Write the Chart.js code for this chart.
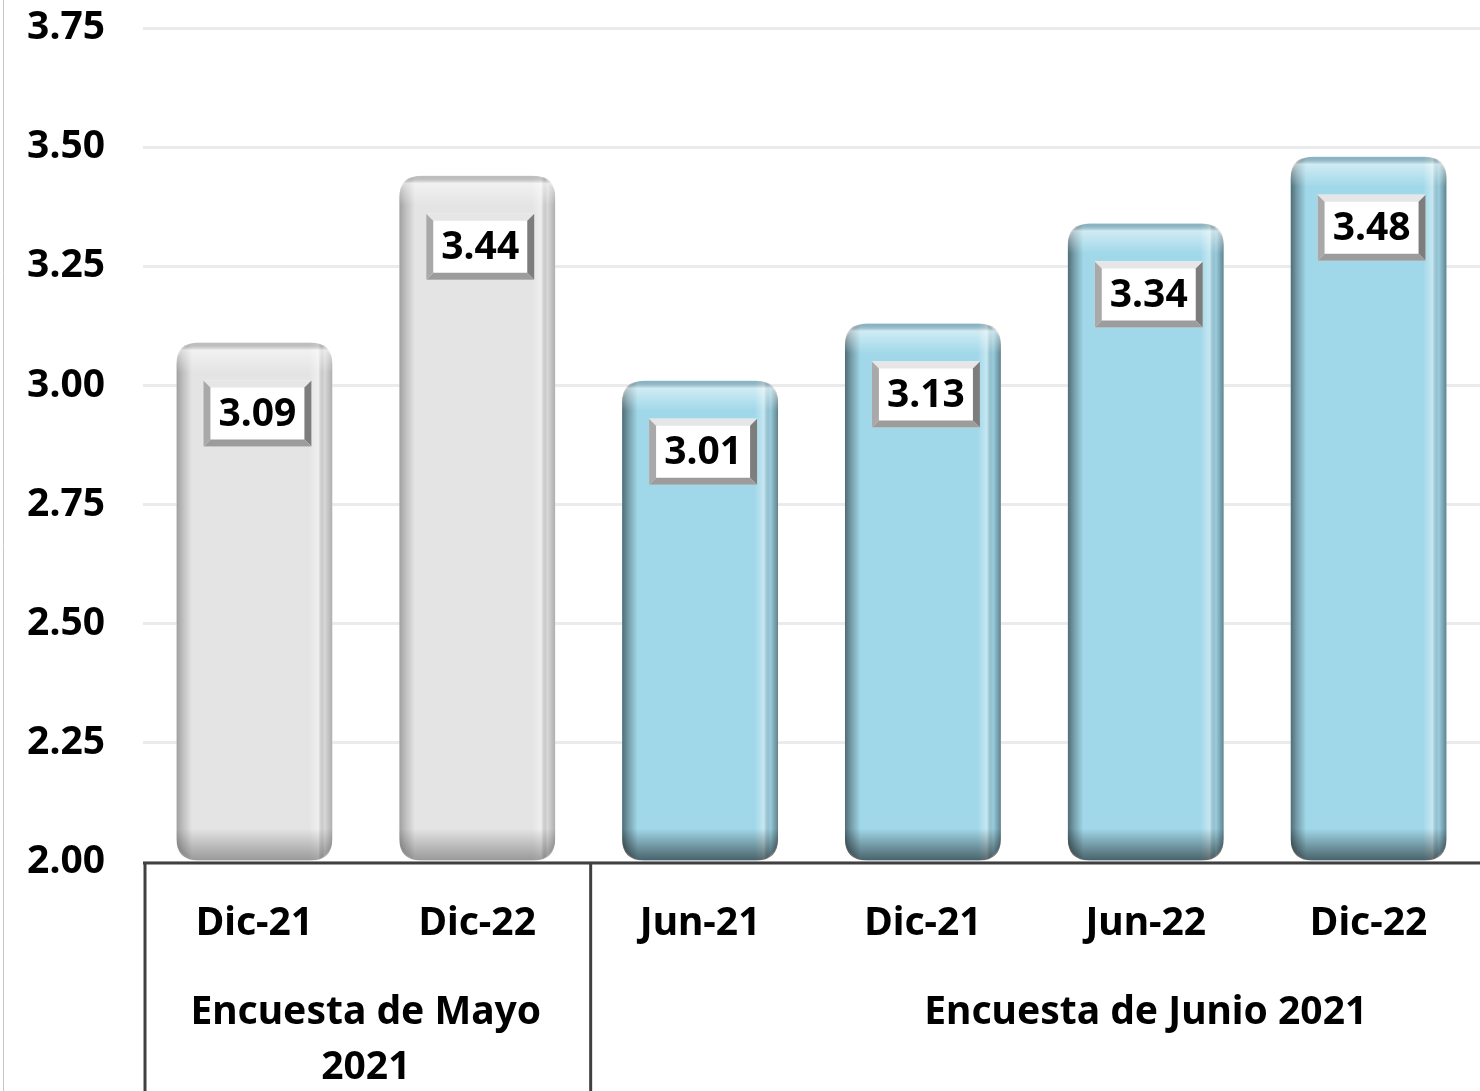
<!DOCTYPE html>
<html>
<head>
<meta charset="utf-8">
<script src="https://cdn.jsdelivr.net/npm/chart.js@4/dist/chart.umd.min.js"></script>
<style>
  html, body { margin: 0; padding: 0; background: #fff; }
  #wrap { width: 1480px; height: 1091px; position: relative; }
</style>
</head>
<body>
<div id="wrap"><canvas id="graph"></canvas></div>
<script>
const categorias = ['Dic-21', 'Dic-22', 'Jun-21', 'Dic-21', 'Jun-22', 'Dic-22'];
const valores = [3.09, 3.44, 3.01, 3.13, 3.34, 3.48];
const grupos = [
    { texto: ['Encuesta de Mayo', '2021'], desde: 0, hasta: 1 },
    { texto: ['Encuesta de Junio 2021'], desde: 2, hasta: 5 }
];
const ticksY = [2.00, 2.25, 2.50, 2.75, 3.00, 3.25, 3.50, 3.75];

const FONT = '"Noto Sans", "DejaVu Sans", sans-serif';
const colores = valores.map((v, i) => i < 2 ? '#e4e4e4' : '#a1d8e9');

function roundRect(ctx, x, y, w, h, r) {
    ctx.beginPath();
    ctx.moveTo(x + r, y);
    ctx.lineTo(x + w - r, y);
    ctx.quadraticCurveTo(x + w, y, x + w, y + r);
    ctx.lineTo(x + w, y + h - r);
    ctx.quadraticCurveTo(x + w, y + h, x + w - r, y + h);
    ctx.lineTo(x + r, y + h);
    ctx.quadraticCurveTo(x, y + h, x, y + h - r);
    ctx.lineTo(x, y + r);
    ctx.quadraticCurveTo(x, y, x + r, y);
    ctx.closePath();
}

// sombreado 3D de las barras
const bevelBars = {
    id: 'bevelBars',
    afterDatasetsDraw(chart) {
        const ctx = chart.ctx;
        chart.getDatasetMeta(0).data.forEach((bar, i) => {
            const x = bar.x - bar.width / 2, w = bar.width;
            const y = bar.y, h = bar.base - bar.y;
            const k = i < 2 ? 0.6 : 1;
            ctx.save();
            roundRect(ctx, x, y, w, h, 22);
            ctx.clip();
            let g = ctx.createLinearGradient(x, 0, x + w, 0);
            g.addColorStop(0, `rgba(0,0,0,${0.5 * k})`);
            g.addColorStop(0.04, `rgba(0,0,0,${0.28 * k})`);
            g.addColorStop(0.10, 'rgba(0,0,0,0.0)');
            g.addColorStop(0.85, 'rgba(255,255,255,0.0)');
            g.addColorStop(0.91, 'rgba(255,255,255,0.4)');
            g.addColorStop(0.95, 'rgba(0,0,0,0.05)');
            g.addColorStop(1, `rgba(0,0,0,${0.4 * k})`);
            ctx.fillStyle = g;
            ctx.fillRect(x, y, w, h);
            g = ctx.createLinearGradient(0, y, 0, y + 30);
            g.addColorStop(0, 'rgba(0,0,0,0.15)');
            g.addColorStop(0.25, 'rgba(255,255,255,0.5)');
            g.addColorStop(1, 'rgba(255,255,255,0)');
            ctx.fillStyle = g;
            ctx.fillRect(x, y, w, 30);
            g = ctx.createLinearGradient(0, bar.base - 32, 0, bar.base);
            g.addColorStop(0, 'rgba(0,0,0,0)');
            g.addColorStop(1, `rgba(0,0,0,${0.55 * k})`);
            ctx.fillStyle = g;
            ctx.fillRect(x, bar.base - 32, w, 32);
            ctx.restore();
        });
    }
};

// etiquetas con caja biselada
const etiquetas = {
    id: 'etiquetas',
    afterDatasetsDraw(chart) {
        const ctx = chart.ctx;
        chart.getDatasetMeta(0).data.forEach((bar, i) => {
            const bw = 108, bh = 66, b = 7;
            const x = bar.x + 3 - bw / 2, y = bar.y + 38;
            ctx.save();
            ctx.fillStyle = '#ffffff';
            ctx.fillRect(x, y, bw, bh);
            // bisel: arriba, izquierda, derecha, abajo
            ctx.fillStyle = '#e6e6e6';
            ctx.beginPath(); ctx.moveTo(x, y); ctx.lineTo(x + bw, y); ctx.lineTo(x + bw - b, y + b); ctx.lineTo(x + b, y + b); ctx.fill();
            ctx.fillStyle = '#a9a9a9';
            ctx.beginPath(); ctx.moveTo(x, y); ctx.lineTo(x + b, y + b); ctx.lineTo(x + b, y + bh - b); ctx.lineTo(x, y + bh); ctx.fill();
            ctx.fillStyle = '#7d7d7d';
            ctx.beginPath(); ctx.moveTo(x + bw, y); ctx.lineTo(x + bw, y + bh); ctx.lineTo(x + bw - b, y + bh - b); ctx.lineTo(x + bw - b, y + b); ctx.fill();
            ctx.fillStyle = '#9c9c9c';
            ctx.beginPath(); ctx.moveTo(x, y + bh); ctx.lineTo(x + b, y + bh - b); ctx.lineTo(x + bw - b, y + bh - b); ctx.lineTo(x + bw, y + bh); ctx.fill();
            ctx.fillStyle = '#000';
            ctx.font = 'bold 39px ' + FONT;
            ctx.textAlign = 'center';
            ctx.textBaseline = 'middle';
            ctx.fillText(valores[i].toFixed(2), x + bw / 2, y + bh / 2 + 1);
            ctx.restore();
        });
    }
};

// eje x con categorias y grupos
const ejeX = {
    id: 'ejeX',
    afterDraw(chart) {
        const ctx = chart.ctx;
        const xs = chart.scales.x;
        const area = chart.chartArea;
        const paso = xs.getPixelForValue(1) - xs.getPixelForValue(0);
        ctx.save();
        ctx.strokeStyle = '#c8c8c8';
        ctx.lineWidth = 1;
        ctx.beginPath(); ctx.moveTo(3.5, 0); ctx.lineTo(3.5, chart.height); ctx.stroke();
        ctx.strokeStyle = '#404040';
        ctx.lineWidth = 3;
        ctx.beginPath(); ctx.moveTo(area.left, area.bottom + 1); ctx.lineTo(area.right, area.bottom + 1); ctx.stroke();
        grupos.forEach(gr => {
            const xi = xs.getPixelForValue(gr.desde) - paso / 2;
            ctx.beginPath(); ctx.moveTo(xi + 2, area.bottom); ctx.lineTo(xi + 2, chart.height); ctx.stroke();
        });
        ctx.fillStyle = '#000';
        ctx.textAlign = 'center';
        ctx.textBaseline = 'middle';
        ctx.font = 'bold 39px ' + FONT;
        categorias.forEach((c, i) => ctx.fillText(c, xs.getPixelForValue(i), area.bottom + 62));
        grupos.forEach((gr, k) => {
            let cx = (xs.getPixelForValue(gr.desde) + xs.getPixelForValue(gr.hasta)) / 2;
            if (k === 1) cx = xs.getPixelForValue(4);
            gr.texto.forEach((t, j) => ctx.fillText(t, cx, area.bottom + 151 + j * 55));
        });
        ctx.restore();
    }
};

const ctx = document.getElementById('graph').getContext('2d');
const chart = new Chart(ctx, {
    type: 'bar',
    data: {
        labels: categorias,
        datasets: [{
            data: valores,
            base: 2,
            backgroundColor: colores,
            borderWidth: 0,
            borderRadius: 22,
            borderSkipped: false,
            categoryPercentage: 1,
            barPercentage: 0.7
        }]
    },
    options: {
        responsive: true,
        maintainAspectRatio: false,
        animation: false,
        layout: { padding: { top: 28, bottom: 229, right: 0, left: 0 } },
        plugins: { legend: { display: false }, tooltip: { enabled: false } },
        scales: {
            x: {
                display: false,
                grid: { display: false }
            },
            y: {
                min: 2,
                max: 3.75,
                afterBuildTicks(scale) { scale.ticks = ticksY.map(v => ({ value: v })); },
                afterFit(scale) {
                    scale.width = 143;
                    scale.paddingTop = 0;
                    scale.paddingBottom = 0;
                },
                ticks: {
                    color: '#000',
                    font: { family: FONT, size: 39, weight: 'bold' },
                    padding: 38,
                    callback: v => v.toFixed(2)
                },
                grid: { color: '#ebebeb', lineWidth: 3, drawTicks: false },
                border: { display: false }
            }
        }
    },
    plugins: [bevelBars, etiquetas, ejeX]
});
</script>
</body>
</html>
